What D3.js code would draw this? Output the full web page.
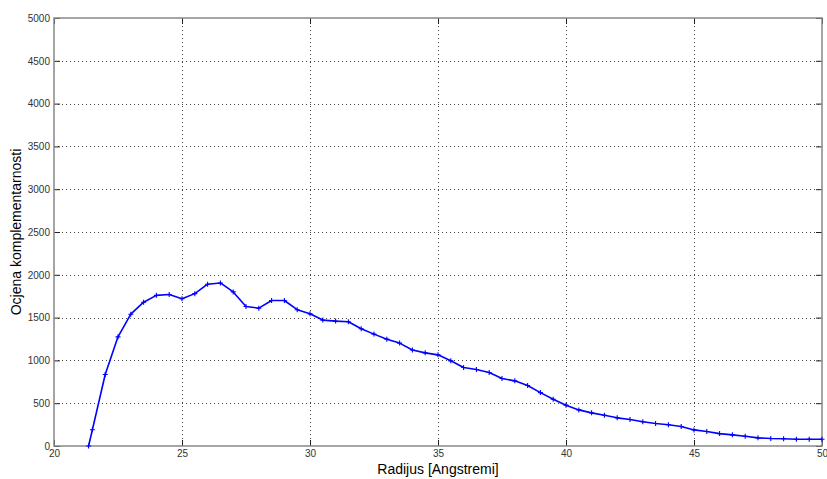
<!DOCTYPE html>
<html>
<head>
<meta charset="utf-8">
<script src="https://cdn.jsdelivr.net/npm/d3@7"></script>
<style>
  html, body { margin: 0; padding: 0; background: #fff; }
  svg { display: block; }
</style>
</head>
<body>
<svg id="chart" width="827" height="479"></svg>
<script>
// Radius values (Angstrom) and complementarity score
const radius = [21.35, 21.5, 22, 22.5, 23, 23.5, 24, 24.5, 25, 25.5, 26, 26.5, 27, 27.5, 28, 28.5,
  29, 29.5, 30, 30.5, 31, 31.5, 32, 32.5, 33, 33.5, 34, 34.5, 35, 35.5, 36, 36.5, 37, 37.5,
  38, 38.5, 39, 39.5, 40, 40.5, 41, 41.5, 42, 42.5, 43, 43.5, 44, 44.5, 45, 45.5, 46, 46.5,
  47, 47.5, 48, 48.5, 49, 49.5, 50];
const score = [0, 190, 835, 1275, 1540, 1680, 1760, 1770, 1720, 1780, 1890, 1905, 1800, 1630, 1610, 1700,
  1700, 1592, 1544, 1471, 1459, 1451, 1369, 1307, 1248, 1202, 1122, 1088, 1065, 995, 917, 894, 859, 788,
  761, 707, 624, 546, 477, 422, 387, 360, 329, 309, 283, 263, 248, 227, 188, 169, 145, 130,
  114, 95, 88, 85, 78, 78, 78];

const xTicks = [20, 25, 30, 35, 40, 45, 50];
const yTicks = [0, 500, 1000, 1500, 2000, 2500, 3000, 3500, 4000, 4500, 5000];
const xTitle = "Radijus [Angstremi]";
const yTitle = "Ocjena komplementarnosti";

const svg = d3.select("#chart");
const box = { left: 54, right: 822, top: 18, bottom: 446 };

const x = d3.scaleLinear().domain([20, 50]).range([box.left, box.right]);
const y = d3.scaleLinear().domain([0, 5000]).range([box.bottom, box.top]);

// dotted grid
const grid = svg.append("g").attr("stroke", "#444").attr("stroke-width", 1)
  .attr("stroke-dasharray", "1,3").attr("shape-rendering", "crispEdges");
grid.selectAll("line.gx").data(xTicks.slice(1, -1)).join("line")
  .attr("x1", d => Math.round(x(d)) + 0.5).attr("x2", d => Math.round(x(d)) + 0.5)
  .attr("y1", box.top).attr("y2", box.bottom);
grid.selectAll("line.gy").data(yTicks.slice(1, -1)).join("line")
  .attr("x1", box.left).attr("x2", box.right)
  .attr("y1", d => Math.round(y(d)) + 0.5).attr("y2", d => Math.round(y(d)) + 0.5);

// axes with inward ticks
const axisStyle = g => {
  g.select(".domain").remove();
  g.selectAll(".tick line").attr("stroke", "#222");
  g.selectAll(".tick text").attr("fill", "#333")
    .attr("font-family", "Liberation Sans, Arial, sans-serif").attr("font-size", 10);
};
const fmt = d3.format("d");
svg.append("g").attr("transform", `translate(0,${box.bottom})`)
  .call(d3.axisBottom(x).tickValues(xTicks).tickFormat(fmt).tickSizeInner(-6).tickSizeOuter(0).tickPadding(4))
  .call(axisStyle);
svg.append("g").attr("transform", `translate(0,${box.top})`)
  .call(d3.axisTop(x).tickValues(xTicks).tickSizeInner(-6).tickSizeOuter(0).tickFormat(""))
  .call(axisStyle);
svg.append("g").attr("transform", `translate(${box.left},0)`)
  .call(d3.axisLeft(y).tickValues(yTicks).tickFormat(fmt).tickSizeInner(-6).tickSizeOuter(0).tickPadding(4))
  .call(axisStyle);
svg.append("g").attr("transform", `translate(${box.right},0)`)
  .call(d3.axisRight(y).tickValues(yTicks).tickSizeInner(-6).tickSizeOuter(0).tickFormat(""))
  .call(axisStyle);

// axes frame
svg.append("rect").attr("x", box.left).attr("y", box.top)
  .attr("width", box.right - box.left).attr("height", box.bottom - box.top)
  .attr("fill", "none").attr("stroke", "#888").attr("stroke-width", 1.5);

// data line with '+' markers
const pts = radius.map((r, i) => [r, score[i]]);
svg.append("path").datum(pts)
  .attr("fill", "none").attr("stroke", "#0000ff").attr("stroke-width", 1.6)
  .attr("stroke-linejoin", "round")
  .attr("d", d3.line().x(d => x(d[0])).y(d => y(d[1])));
svg.append("g").attr("stroke", "#0000ff").attr("stroke-width", 1.1)
  .selectAll("path").data(pts).join("path")
  .attr("d", d => {
    const cx = x(d[0]), cy = y(d[1]), s = 2.5;
    return `M${cx - s},${cy}H${cx + s}M${cx},${cy - s}V${cy + s}`;
  });

// titles
svg.append("text").attr("x", (box.left + box.right) / 2).attr("y", 474)
  .attr("text-anchor", "middle").attr("font-family", "Liberation Sans, Arial, sans-serif")
  .attr("font-size", 14).attr("fill", "#000").text(xTitle);
svg.append("text").attr("transform", `translate(21,${(box.top + box.bottom) / 2}) rotate(-90)`)
  .attr("text-anchor", "middle").attr("font-family", "Liberation Sans, Arial, sans-serif")
  .attr("font-size", 14).attr("fill", "#000").text(yTitle);
</script>
</body>
</html>
